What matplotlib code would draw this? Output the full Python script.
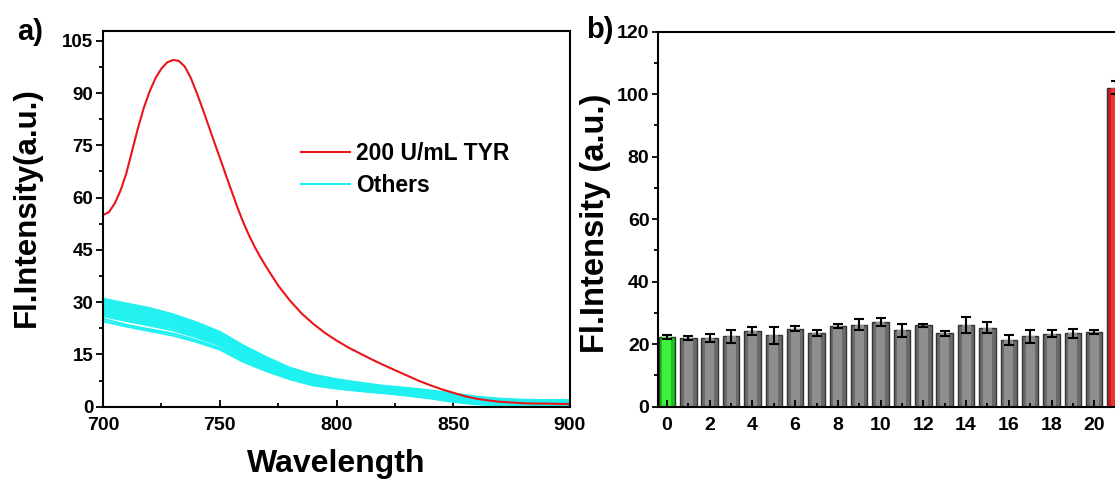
import matplotlib
matplotlib.use("Agg")
import matplotlib.pyplot as plt
from matplotlib.ticker import MultipleLocator

plt.rcParams["font.family"] = ["Liberation Sans", "DejaVu Sans"]
plt.rcParams["font.weight"] = "bold"
plt.rcParams["axes.labelweight"] = "bold"

# ---- panel a: emission spectra ----
wl_red = [700, 702.5, 705, 707.5, 710, 712.5, 715, 717.5, 720, 722.5, 725, 727.5, 730,
          732.5, 735, 737.5, 740, 742.5, 745, 747.5, 750, 752.5, 755, 757.5, 760,
          762.5, 765, 767.5, 770, 775, 780, 785, 790, 795, 800, 805, 810, 815, 820,
          825, 830, 835, 840, 845, 850, 855, 860, 865, 870, 875, 880, 885, 890, 895, 900]
tyr_200 = [55.0, 55.8, 58.3, 62.0, 67.0, 73.5, 80.0, 85.8, 90.5, 94.3, 97.0, 98.8, 99.5,
           99.2, 97.6, 94.5, 90.3, 85.8, 81.0, 76.2, 71.5, 66.7, 62.0, 57.3, 53.0,
           49.2, 45.8, 42.8, 40.0, 34.8, 30.5, 26.8, 23.8, 21.2, 19.0, 17.0, 15.3, 13.6, 12.0,
           10.5, 9.0, 7.5, 6.2, 5.0, 4.0, 3.0, 2.3, 1.8, 1.4, 1.2, 1.0, 0.9, 0.9, 0.8, 0.8]

wl_others = [700, 710, 720, 730, 740, 750, 760, 770, 780, 790, 800,
             810, 820, 830, 840, 850, 860, 870, 880, 890, 900]
others = [
    [31.0, 29.6, 28.3, 26.5, 24.2, 21.5, 17.6, 14.2, 11.2, 9.2, 7.9, 6.9, 6.0, 5.4, 4.7, 3.8, 2.9, 2.3, 2.0, 1.9, 1.9],
    [30.5, 29.1, 27.8, 26.0, 23.8, 21.1, 17.2, 13.8, 10.9, 8.9, 7.6, 6.7, 5.8, 5.2, 4.5, 3.6, 2.7, 2.1, 1.8, 1.8, 1.8],
    [30.0, 28.6, 27.3, 25.6, 23.4, 20.8, 16.8, 13.5, 10.6, 8.6, 7.4, 6.5, 5.6, 5.0, 4.3, 3.4, 2.5, 2.0, 1.7, 1.6, 1.6],
    [29.5, 28.1, 26.8, 25.2, 22.9, 20.4, 16.4, 13.1, 10.3, 8.4, 7.2, 6.2, 5.4, 4.8, 4.1, 3.1, 2.3, 1.8, 1.6, 1.5, 1.5],
    [29.0, 27.6, 26.3, 24.7, 22.5, 20.0, 16.0, 12.8, 10.0, 8.1, 6.9, 6.0, 5.2, 4.6, 3.9, 2.9, 2.1, 1.6, 1.4, 1.3, 1.3],
    [28.5, 27.1, 25.8, 24.2, 22.1, 19.6, 15.6, 12.4, 9.7, 7.8, 6.6, 5.8, 5.0, 4.4, 3.6, 2.7, 1.9, 1.4, 1.2, 1.2, 1.2],
    [28.0, 26.6, 25.3, 23.8, 21.7, 19.3, 15.2, 12.0, 9.4, 7.5, 6.4, 5.6, 4.9, 4.2, 3.4, 2.5, 1.7, 1.3, 1.1, 1.1, 1.1],
    [27.5, 26.1, 24.8, 23.4, 21.3, 18.9, 14.8, 11.7, 9.1, 7.2, 6.2, 5.4, 4.7, 4.0, 3.2, 2.3, 1.5, 1.1, 1.0, 0.9, 0.9],
    [27.0, 25.6, 24.3, 22.9, 20.8, 18.5, 14.4, 11.3, 8.8, 7.0, 5.9, 5.1, 4.5, 3.8, 3.0, 2.0, 1.3, 0.9, 0.8, 0.8, 0.8],
    [26.5, 25.1, 23.8, 22.5, 20.4, 18.1, 14.1, 11.0, 8.5, 6.7, 5.7, 4.9, 4.3, 3.6, 2.8, 1.8, 1.1, 0.8, 0.7, 0.6, 0.6],
    [26.0, 24.6, 23.3, 21.9, 19.9, 17.6, 13.8, 10.7, 8.2, 6.4, 5.4, 4.7, 4.1, 3.4, 2.6, 1.6, 0.9, 0.6, 0.5, 0.5, 0.5],
    [25.2, 23.5, 22.2, 21.0, 19.1, 16.9, 13.3, 10.4, 8.1, 6.3, 5.3, 4.6, 4.0, 3.3, 2.5, 1.5, 0.8, 0.5, 0.4, 0.4, 0.4],
    [24.5, 23.0, 21.7, 20.4, 18.6, 16.4, 12.9, 10.2, 7.9, 6.1, 5.2, 4.5, 3.9, 3.2, 2.4, 1.4, 0.7, 0.4, 0.3, 0.3, 0.3],
]

# ---- panel b: selectivity bars ----
samples = list(range(22))
intensity = [22.2, 22.0, 22.0, 22.5, 24.3, 22.8, 24.9, 23.6, 25.9, 26.3, 27.1,
             24.4, 26.0, 23.5, 26.1, 25.3, 21.4, 22.5, 23.3, 23.5, 24.0, 102.1]
errors = [0.6, 0.6, 1.3, 2.1, 1.3, 2.6, 0.8, 1.0, 0.7, 1.9, 1.3,
          2.2, 0.5, 0.8, 2.5, 1.8, 1.7, 2.0, 1.1, 1.4, 0.6, 2.0]
bar_dark = ["#1cc41c"] + ["#6a6a6a"] * 20 + ["#c81e22"]
bar_light = ["#3cf03c"] + ["#8e8e8e"] * 20 + ["#ee3236"]

fig = plt.figure(figsize=(11.15, 4.82), dpi=100)
W, H = 1115, 482

# panel a
ax1 = fig.add_axes([103 / W, 1 - 406.7 / H, 467 / W, 375.7 / H])
for curve in others:
    ax1.plot(wl_others, curve, color="#1ff0f0", lw=1.5, solid_joinstyle="round")
ax1.plot(wl_red, tyr_200, color="#ec1418", lw=1.5, solid_joinstyle="round")
ax1.plot([], [], color="#ec1418", lw=1.5, label="200 U/mL TYR")
ax1.plot([], [], color="#1ff0f0", lw=1.5, label="Others")

ax1.set_xlim(700, 900)
ax1.set_ylim(0, 107.8)
ax1.xaxis.set_major_locator(MultipleLocator(50))
ax1.xaxis.set_minor_locator(MultipleLocator(25))
ax1.yaxis.set_major_locator(MultipleLocator(15))
ax1.yaxis.set_minor_locator(MultipleLocator(7.5))
ax1.tick_params(axis="x", which="major", direction="in", length=5, width=1.3, labelsize=14, pad=7.5)
ax1.tick_params(axis="x", which="minor", direction="in", length=3, width=1.3)
ax1.tick_params(axis="y", which="major", direction="out", length=5, width=1.3, labelsize=13.5, pad=2)
ax1.tick_params(axis="y", which="minor", direction="out", length=3, width=1.3)
for s in ax1.spines.values():
    s.set_linewidth(1.5)

ax1.set_xlabel("Wavelength", fontsize=23)
ax1.xaxis.set_label_coords(0.5, -0.112)
ax1.set_ylabel("Fl.Intensity(a.u.)", fontsize=22.5)
ax1.yaxis.set_label_coords(-0.131, 0.531)

ax1.legend(loc="center left", bbox_to_anchor=(0.425, 0.632), frameon=False,
           fontsize=16.5, handlelength=2.1, handletextpad=0.3, labelspacing=0.38,
           borderpad=0, borderaxespad=0)

# panel b
ax2 = fig.add_axes([657.8 / W, 1 - 406.7 / H, 467 / W, 375 / H])
ax2.bar(samples, intensity, width=0.77, color=bar_dark, edgecolor="#333333", linewidth=1.0)
ax2.bar(samples, intensity, width=0.42, color=bar_light, linewidth=0)
ax2.errorbar(samples, intensity, yerr=errors, fmt="none", ecolor="black",
             elinewidth=1.5, capsize=3.5, capthick=1.5)
ax2.set_xlim(-0.43, 21.43)
ax2.set_ylim(0, 120)
ax2.xaxis.set_major_locator(MultipleLocator(2))
ax2.xaxis.set_minor_locator(MultipleLocator(1))
ax2.yaxis.set_major_locator(MultipleLocator(20))
ax2.yaxis.set_minor_locator(MultipleLocator(10))
ax2.tick_params(axis="x", which="major", direction="in", length=5, width=1.3, labelsize=14, pad=7.5)
ax2.tick_params(axis="x", which="minor", direction="in", length=3, width=1.3)
ax2.tick_params(axis="y", which="major", direction="out", length=4, width=1.3, labelsize=14, pad=2)
ax2.tick_params(axis="y", which="minor", direction="out", length=3, width=1.3)
for s in ax2.spines.values():
    s.set_linewidth(1.5)
ax2.set_ylabel("Fl.Intensity (a.u.)", fontsize=23.5)
ax2.yaxis.set_label_coords(-0.100, 0.49)

fig.text(17 / W, 1 - 40 / H, "a)", fontsize=21, fontweight="bold", va="baseline")
fig.text(586 / W, 1 - 38 / H, "b)", fontsize=21, fontweight="bold", va="baseline")

fig.savefig("out.png", dpi=100)
